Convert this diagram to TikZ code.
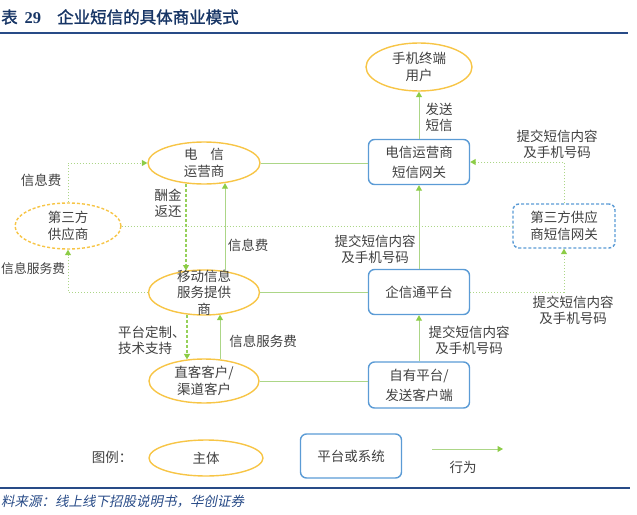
\documentclass[tikz,border=0pt]{standalone}
\usepackage{fontspec}
\setmainfont{Liberation Serif}
\newfontfamily\cjk{Noto Sans CJK SC}
\newfontfamily\cjkb{Noto Sans CJK SC}[FakeBold=1.5]
\newfontfamily\cjkit{Noto Sans CJK SC}[FakeSlant=0.2]
\usetikzlibrary{shapes.geometric,arrows.meta,calc}
\definecolor{ylw}{RGB}{247,197,70}
\definecolor{bl}{RGB}{91,155,213}
\definecolor{grnL}{RGB}{172,214,135}
\definecolor{grnA}{RGB}{140,204,70}
\definecolor{grnD}{RGB}{150,208,90}
\definecolor{tgray}{RGB}{64,64,64}
\definecolor{ttl}{RGB}{24,54,102}
\definecolor{rulec}{RGB}{40,75,135}
\tikzset{
  lbl/.style={font=\cjk\fontsize{13.5}{16}\selectfont, text=tgray, align=center, inner sep=0},
  etxt/.style={font=\cjk\fontsize{13.5}{16.5}\selectfont, text=tgray, align=center, inner sep=0},
  ell/.style={ellipse, draw=ylw, line width=1.4pt, minimum width=112, minimum height=44, inner sep=0},
  box/.style={draw=bl, line width=1.4pt, rounded corners=6pt, minimum width=101, minimum height=45,
              inner sep=0, align=center, text=tgray, font=\cjk\fontsize{13.5}{20}\selectfont},
  arr/.style={-{Triangle[length=5.5pt,width=6pt,color=grnA]}},
  plain/.style={draw=grnL, line width=1pt},
  dots/.style={draw=grnL, line width=1pt, dash pattern=on 1.2pt off 1.8pt},
  dsh/.style={draw=grnD, line width=1.1pt, dash pattern=on 3pt off 2pt},
  rule/.style={draw=rulec, line width=1.8pt},
}
\begin{document}
\begin{tikzpicture}[x=1pt,y=-1pt]
\path[use as bounding box] (0,0) rectangle (637,514);
% title
\node[anchor=west, inner sep=0, text=ttl] (title) at (1,17)
  {{\cjkb\fontsize{16.5}{18}\selectfont 表}\hspace{7pt}{\fontsize{16.5}{18}\selectfont\bfseries 29}\hspace{16pt}{\cjkb\fontsize{16.5}{18}\selectfont 企业短信的具体商业模式}};
\coordinate (t1) at (0,33); \coordinate (t2) at (628,33);
\draw[rule] (t1) -- (t2);

% main nodes
\node[ell, minimum width=106, minimum height=48, label={[etxt]center:{手机终端\\用户}}] (user) at (419,67) {};
\node[ell, minimum width=112, minimum height=42, label={[etxt]center:{电\hspace{0.95em}信\\运营商}}] (tel) at (204,163) {};
\node[ell, dash pattern=on 3pt off 2pt, minimum width=106, minimum height=46, label={[etxt]center:{第三方\\供应商}}] (third) at (68,226) {};
\node[ell, minimum width=111, minimum height=45, label={[etxt]center:{移动信息\\服务提供\\商}}] (msp) at (204,292.5) {};
\node[ell, minimum width=110, minimum height=44, label={[etxt]center:{直客客户/\\渠道客户}}] (direct) at (204,381) {};

\node[box] (gw) at (419,162) {电信运营商\\短信网关};
\node[box] (qxt) at (419,292) {企信通平台};
\node[box, minimum height=46] (own) at (419,385) {自有平台/\\发送客户端};
\node[box, dash pattern=on 3pt off 2pt, minimum width=102, minimum height=44, font=\cjk\fontsize{13.5}{17}\selectfont] (tgw) at (564,226) {第三方供应\\商短信网关};

% solid flows
\draw[plain, arr] (gw) -- (user);
\draw[plain, arr] (qxt) -- (gw);
\draw[plain, arr] (own) -- (qxt);
\draw[plain] (tel.east) -- (tel.east -| gw.west);
\draw[plain] (msp.east) -- (msp.east -| qxt.west);
\draw[plain] (direct.east) -- (direct.east -| own.west);
\draw[plain, arr] ($(msp.north)+(21,1.7)$) -- ($(tel.south)+(21,-1.5)$);
\draw[dsh, arr] ($(tel.south)+(-18,-1.1)$) -- ($(msp.north)+(-18,1.2)$);
\draw[plain, arr] ($(direct.north)+(16,1)$) -- ($(msp.south)+(16,-1)$);
\draw[dsh, arr] ($(msp.south)+(-17,-1.1)$) -- ($(direct.north)+(-17,1.1)$);

% dotted flows
\draw[dots, arr] (third.north) |- (tel.west);
\draw[dots, arr] (msp.west) -| (third.south);
\draw[dots] (third.east) -- (tgw.west);
\draw[dots, arr] (qxt.east) -| (tgw.south);
\draw[dots, arr] (tgw.north) |- (gw.east);

% labels
\node[lbl] (l1) at (439,117) {发送\\短信};
\node[lbl] (l2) at (557,144) {提交短信内容\\及手机号码};
\node[lbl] (l3) at (375,249) {提交短信内容\\及手机号码};
\node[lbl] (l4) at (573,310) {提交短信内容\\及手机号码};
\node[lbl] (l5) at (469,340) {提交短信内容\\及手机号码};
\node[lbl] (l6) at (41,180) {信息费};
\node[lbl] (l7) at (168,203) {酬金\\返还};
\node[lbl] (l8) at (248,245) {信息费};
\node[lbl, anchor=west, font=\cjk\fontsize{12.8}{16}\selectfont] (l9) at (1,269) {信息服务费};
\node[lbl, anchor=west, align=left] (l10) at (118,340) {平台定制、\\技术支持};
\node[lbl] (l11) at (263,341) {信息服务费};

% legend
\node[lbl] (lg) at (112,457) {图例：};
\node[ell, minimum width=114, minimum height=36, label={[etxt]center:{主体}}] (lge) at (206,458) {};
\node[box, minimum height=44] (lgb) at (351,456) {平台或系统};
\coordinate (la) at (432,449); \coordinate (lb) at (503,449);
\draw[plain, arr] (la) -- (lb);
\node[lbl] (lgt) at (463,467) {行为};

% bottom rule and source
\coordinate (b1) at (0,488); \coordinate (b2) at (630,488);
\draw[rule] (b1) -- (b2);
\node[anchor=west, inner sep=0, text=rulec, font=\cjkit\fontsize{13.5}{16}\selectfont] (src) at (1,502) {料来源：线上线下招股说明书，华创证券};
\end{tikzpicture}
\end{document}
